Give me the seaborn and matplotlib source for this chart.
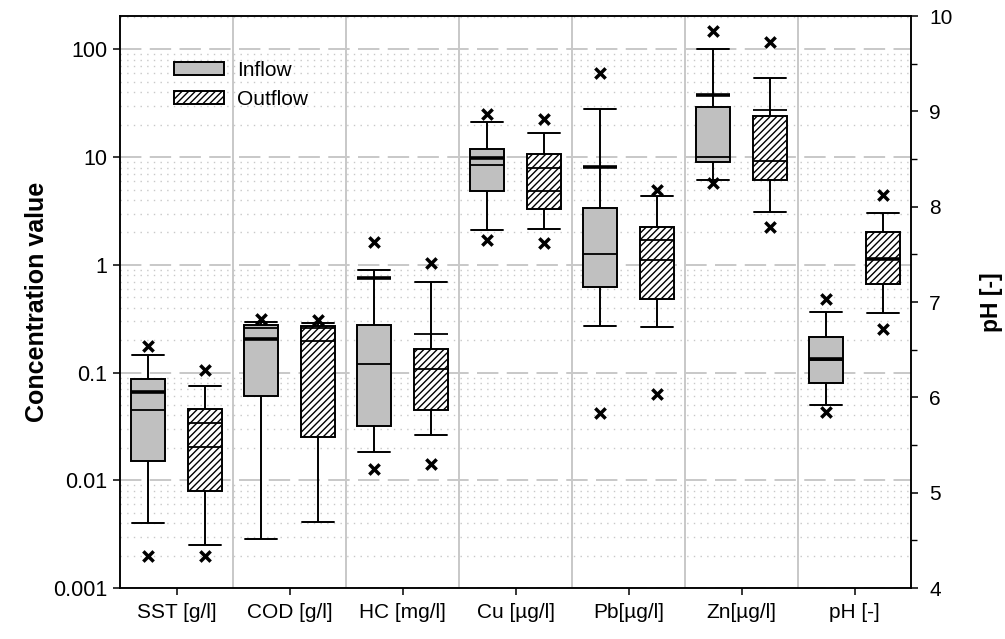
import numpy as np
import pandas as pd
import seaborn as sns
import matplotlib.pyplot as plt
from matplotlib.patches import Patch

# categories on the x axis (pH is plotted against the right axis)
categories = ['SST [g/l]', 'COD [g/l]', 'HC [mg/l]', 'Cu [µg/l]', 'Pb[µg/l]', 'Zn[µg/l]', 'pH [-]']
groups = ['Inflow', 'Outflow']

# box statistics: whisker low/high, quartiles, median, mean, outer crosses
inflow_low = [0.0040, 0.00285, 0.0183, 2.10, 0.273, 6.10, 5.92]
inflow_q1 = [0.0150, 0.0607, 0.0317, 4.82, 0.623, 8.97, 6.15]
inflow_med = [0.0447, 0.258, 0.119, 8.41, 1.26, 10.0, 6.39]
inflow_q3 = [0.0867, 0.279, 0.277, 12.0, 3.35, 29.2, 6.63]
inflow_high = [0.147, 0.293, 0.898, 21.2, 27.8, 101.9, 6.90]
inflow_mean = [0.066, 0.207, 0.755, 9.77, 8.11, 37.6, 6.40]
inflow_xlow = [0.00198, np.nan, 0.0126, 1.72, 0.0425, 5.76, 5.85]
inflow_xhigh = [0.177, 0.317, 1.63, 25.4, 61.0, 148.6, 7.03]

outflow_low = [0.00249, 0.00407, 0.0266, 2.15, 0.265, 3.10, 6.88]
outflow_q1 = [0.00796, 0.0255, 0.0447, 3.33, 0.486, 6.19, 7.185]
outflow_med = [0.0202, 0.257, 0.109, 4.90, 1.10, 9.22, 7.45]
outflow_q3 = [0.0457, 0.273, 0.167, 10.6, 2.25, 24.1, 7.73]
outflow_high = [0.0757, 0.290, 0.69, 16.7, 4.36, 54.8, 7.93]
outflow_mean = [0.034, 0.196, 0.228, 7.94, 1.69, 27.2, 7.455]
outflow_xlow = [0.00198, np.nan, 0.0143, 1.60, 0.0638, 2.25, 6.72]
outflow_xhigh = [0.105, 0.310, 1.05, 22.8, 4.93, 117.4, 8.12]

ytick_values = [0.001, 0.01, 0.1, 1, 10, 100]
ytick_labels = ['0.001', '0.01', '0.1', '1', '10', '100']
ph_ticks = [4, 5, 6, 7, 8, 9, 10]

stats = {
    'Inflow': (inflow_low, inflow_q1, inflow_med, inflow_q3, inflow_high, inflow_mean, inflow_xlow, inflow_xhigh),
    'Outflow': (outflow_low, outflow_q1, outflow_med, outflow_q3, outflow_high, outflow_mean, outflow_xlow, outflow_xhigh),
}

# long table: the five box values per group (percentiles of these give exactly the box)
rows = []
for g in groups:
    low, q1, med, q3, high = stats[g][:5]
    for i, cat in enumerate(categories):
        for v in (low[i], q1[i], med[i], q3[i], high[i]):
            rows.append({'param': cat, 'flow': g, 'value': v})
df = pd.DataFrame(rows)
conc = df[df['param'] != 'pH [-]']
ph = df[df['param'] == 'pH [-]']

sns.set_theme(style='white')
plt.rcParams['font.family'] = ['Liberation Sans', 'DejaVu Sans']
plt.rcParams['hatch.linewidth'] = 1.0
for k in ('text.color', 'axes.labelcolor', 'xtick.color', 'ytick.color'):
    plt.rcParams[k] = 'black'

GRID = '#c8c8c8'
palette = {'Inflow': '#c0c0c0', 'Outflow': 'white'}
box_kws = dict(x='param', y='value', hue='flow', order=categories, hue_order=groups,
               palette=palette, width=1.0, gap=0.4, whis=(0, 100), showfliers=False,
               linecolor='black', linewidth=1.4, capwidths=0.28, legend=False,
               medianprops={'linewidth': 1.3})

fig = plt.figure(figsize=(10.05, 6.39), dpi=100)
ax = fig.add_axes([120 / 1005, 1 - 588 / 639, 791 / 1005, 572 / 639])
ax2 = ax.twinx()

sns.boxplot(data=conc, ax=ax, log_scale=True, **box_kws)
sns.boxplot(data=ph, ax=ax2, **box_kws)

for a in (ax, ax2):
    for p in a.patches:
        if tuple(np.round(p.get_facecolor()[:3], 2)) == (1.0, 1.0, 1.0):
            p.set_hatch('/////')

# means and outer crosses
half = 0.15
n = len(categories) - 1
for g in groups:
    mean, xlow, xhigh = stats[g][5:]
    off = -0.25 if g == 'Inflow' else 0.25
    lw = 2.6 if g == 'Inflow' else 1.3
    pos = np.arange(len(categories)) + off
    ax.hlines(mean[:n], pos[:n] - half, pos[:n] + half, color='black', lw=lw, zorder=4)
    ax2.hlines(mean[n:], pos[n:] - half, pos[n:] + half, color='black', lw=2.6, zorder=4)
    pts = pd.DataFrame({'x': np.concatenate([pos, pos]), 'y': xlow + xhigh,
                        'ph': [c == 'pH [-]' for c in categories] * 2})
    pts = pts.dropna()
    sns.scatterplot(data=pts[~pts['ph']], x='x', y='y', ax=ax, marker='x', s=55,
                    color='black', linewidth=2.5, zorder=5, legend=False)
    sns.scatterplot(data=pts[pts['ph']], x='x', y='y', ax=ax2, marker='x', s=55,
                    color='black', linewidth=2.5, zorder=5, legend=False)

ax.set_ylim(0.001, 10 ** 2.311)
ax2.set_ylim(4, 10)
ax.set_xlim(-0.5, len(categories) - 0.5)

ax.set_yticks(ytick_values, ytick_labels)
ax.yaxis.set_minor_formatter(plt.NullFormatter())
ax.set_xticks(range(len(categories)), categories)
ax.set_xticks(np.arange(len(categories) - 1) + 0.5, minor=True)
ax2.set_yticks(ph_ticks)
ax2.set_yticks(np.arange(4.5, 10, 1.0), minor=True)

ax.grid(True, which='major', axis='y', color=GRID, lw=1.4, ls=(0, (11, 4.3)))
ax.grid(True, which='minor', axis='y', color=GRID, lw=1.0, ls=(0, (1, 3.8)))
ax.grid(True, which='minor', axis='x', color=GRID, lw=1.4, ls='-')
ax.set_axisbelow(True)
ax2.grid(False)

ax.tick_params(axis='both', which='major', direction='out', length=5, width=1.1,
               color='black', labelsize=15.5, pad=4, left=True, bottom=True)
ax.tick_params(axis='x', which='major', pad=6, labelsize=15)
ax.tick_params(axis='both', which='minor', length=0)
ax2.tick_params(axis='y', which='major', direction='out', length=5, width=1.1,
                color='black', labelsize=15, pad=8, right=True)
ax2.tick_params(axis='y', which='minor', direction='out', length=4, width=1.0,
                color='black', right=True)

for a in (ax, ax2):
    for s in a.spines.values():
        s.set_color('black')
        s.set_linewidth(1.1)

ax.set_xlabel('')
ax.set_ylabel('Concentration value', fontsize=18, fontweight='bold', labelpad=3)
ax2.set_ylabel('pH [-]', fontsize=16.5, fontweight='bold', labelpad=20)

handles = [Patch(facecolor='#c0c0c0', edgecolor='black', lw=1.4, label='Inflow'),
           Patch(facecolor='white', edgecolor='black', lw=1.4, hatch='/////', label='Outflow')]
ax2.legend(handles=handles, loc='upper left', bbox_to_anchor=(0.068, 0.921), frameon=False,
           fontsize=15, handlelength=2.4, handleheight=0.6, handletextpad=0.62,
           labelspacing=0.45, borderpad=0, borderaxespad=0)

fig.savefig('out.png', dpi=100)
